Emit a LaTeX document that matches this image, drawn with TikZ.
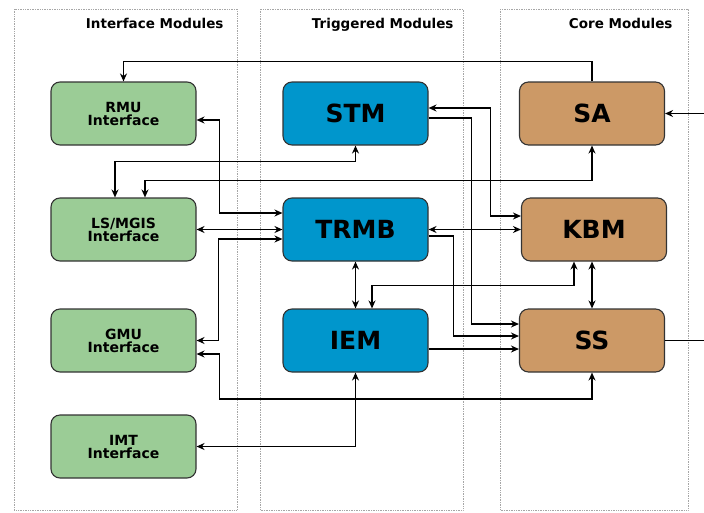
\documentclass[tikz,border=0pt]{standalone}
\usepackage{fontspec}
\setmainfont{DejaVu Sans}
\usetikzlibrary{arrows.meta}
\definecolor{verde}{RGB}{155,204,150}
\definecolor{azul}{RGB}{0,150,204}
\definecolor{ocre}{RGB}{204,153,102}

\begin{document}
\begin{tikzpicture}[x=1pt, y=-1pt,
    modulo/.style={draw=black!80, line width=1.1pt, rounded corners=9pt,
      minimum width=145pt, minimum height=63pt, align=center},
    interfaz/.style={modulo, fill=verde, font=\bfseries\fontsize{14}{13}\selectfont},
    disparado/.style={modulo, fill=azul, font=\bfseries\fontsize{25}{26}\selectfont},
    nucleo/.style={modulo, fill=ocre, font=\bfseries\fontsize{25}{26}\selectfont},
    panel/.style={draw=gray!70, densely dotted, line width=0.7pt},
    titulo/.style={anchor=base east, font=\bfseries\fontsize{13.5}{16}\selectfont},
    flecha/.style={line width=1.4pt, >={Stealth[length=8pt,width=7pt]}}]
  \useasboundingbox (0,0) rectangle (704,512);

  % Paneles
  \foreach \xa/\xb in {14/237, 260/463, 500/688} {
      \draw[panel] (\xa,9) rectangle (\xb,510);
  }

  % Titulos de los paneles
  \node[titulo] (tinterfaz) at (227,28) {Interface Modules};
  \node[titulo] (tdisparado) at (457,28) {Triggered Modules};
  \node[titulo] (tnucleo) at (676,28) {Core Modules};

  % Modulos de interfaz
  \node[interfaz] (rmu) at (123.5,113.5) {RMU\\Interface};
  \node[interfaz] (ls) at (123.5,229.5) {LS/MGIS\\Interface};
  \node[interfaz] (gmu) at (123.5,340.5) {GMU\\Interface};
  \node[interfaz] (imt) at (123.5,446.5) {IMT\\Interface};

  % Modulos disparados
  \node[disparado] (stm) at (355.5,113.5) {STM};
  \node[disparado] (trmb) at (355.5,229.5) {TRMB};
  \node[disparado] (iem) at (355.5,340.5) {IEM};

  % Modulos del nucleo
  \node[nucleo] (sa) at (592,113.5) {SA};
  \node[nucleo] (kbm) at (594,229.5) {KBM};
  \node[nucleo] (ss) at (592,340.5) {SS};

  % Extremos libres
  \coordinate (entrada) at (704,113.5);
  \coordinate (salida) at (704,340.5);

  % Conexiones
  \draw[flecha, ->] (sa.north) -- ++(0,-20) -| (rmu.north);
  \draw[flecha, <->] ([yshift=-6.5pt]rmu.east) -- ++(23,0) |- ([yshift=16.5pt]trmb.west);
  \draw[flecha, <->] (ls.east) -- (trmb.west);
  \draw[flecha, <->] ([yshift=-9.5pt]trmb.west) -- ++(-64,0) |- (gmu.east);
  \draw[flecha, <->] ([yshift=-13.5pt]gmu.east) -- ++(23,0) -- ++(0,45) -| (ss.south);
  \draw[flecha, <->] (imt.east) -| (iem.south);
  \draw[flecha, <->] ([xshift=-8.5pt]ls.north) -- ++(0,-36) -| (stm.south);
  \draw[flecha, <->] ([xshift=21.5pt]ls.north) -- ++(0,-17) -| (sa.south);
  \draw[flecha, <->] ([yshift=5.5pt]stm.east) -- ++(62,0) |- ([yshift=13.5pt]kbm.west);
  \draw[flecha, ->] ([yshift=-4.5pt]stm.east) -- ++(43,0) |- ([yshift=16.5pt]ss.west);
  \draw[flecha, <->] (trmb.east) -- (kbm.west);
  \draw[flecha, ->] ([yshift=-6.5pt]trmb.east) -- ++(25,0) |- ([yshift=4.5pt]ss.west);
  \draw[flecha, ->] ([yshift=-8.5pt]iem.east) -- ([yshift=-8.5pt]ss.west);
  \draw[flecha, <->] (trmb.south) -- (iem.north);
  \draw[flecha, <->] ([xshift=-20pt]kbm.south) -- ++(0,24) -| ([xshift=16.5pt]iem.north);
  \draw[flecha, <->] (kbm.south -| ss.north) -- (ss.north);
  \draw[flecha, ->] (entrada) -- (sa.east);
  \draw[flecha] (ss.east) -- (salida);
\end{tikzpicture}
\end{document}
